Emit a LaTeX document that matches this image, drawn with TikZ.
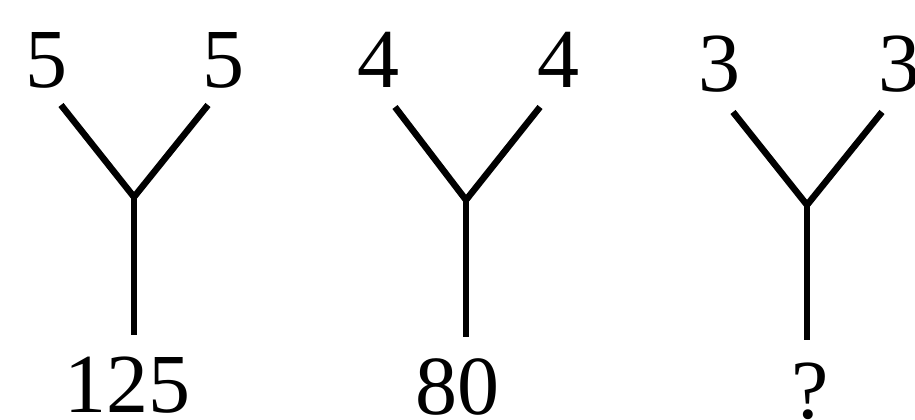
\documentclass[tikz,border=0pt]{standalone}
\usepackage{fontspec}
\setmainfont{Liberation Serif}
\begin{document}
\begin{tikzpicture}[x=1pt,y=-1pt,
  num/.style={anchor=base,inner sep=0pt,font=\fontsize{84}{84}\selectfont},
  arm/.style={line width=6.5pt,line join=miter,line cap=butt}]
\useasboundingbox (0,0) rectangle (915,420);
% Y 1
\node[num] (l1) at (46,88) {5};
\node[num] (r1) at (223,88) {5};
\node[num] (n1) at (127,412) {125};
\coordinate (a1) at (61,105);
\coordinate (b1) at (208,105);
\coordinate (j1) at (134,197);
\coordinate (s1) at (134,335);
\draw[arm] (a1) -- (j1) -- (b1);
\draw[arm] (j1) -- (s1);
% Y 2
\node[num] (l2) at (378,88) {4};
\node[num] (r2) at (558,88) {4};
\node[num] (n2) at (457,414) {80};
\coordinate (a2) at (395,107);
\coordinate (b2) at (540,107);
\coordinate (j2) at (466,200);
\coordinate (s2) at (466,337);
\draw[arm] (a2) -- (j2) -- (b2);
\draw[arm] (j2) -- (s2);
% Y 3
\node[num] (l3) at (719,91) {3};
\node[num] (r3) at (899,91) {3};
\node[num] (n3) at (810,418) {?};
\coordinate (a3) at (733,112);
\coordinate (b3) at (882,112);
\coordinate (j3) at (807,205);
\coordinate (s3) at (807,340);
\draw[arm] (a3) -- (j3) -- (b3);
\draw[arm] (j3) -- (s3);
\end{tikzpicture}
\end{document}
